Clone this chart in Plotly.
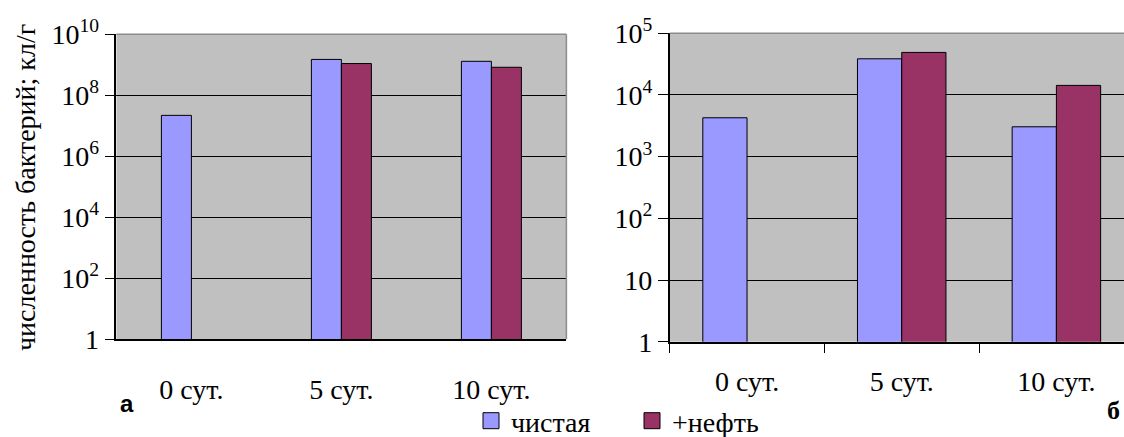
import plotly.graph_objects as go

categories = ["0 сут.", "5 сут.", "10 сут."]
series_names = ["чистая", "+нефть"]
a_clean = [2.2e7, 1.5e9, 1.3e9]
a_oil = [None, 1.1e9, 8.3e8]
b_clean = [4270, 38600, 3050]
b_oil = [None, 49000, 14300]
a_tickvals = [1, 1e2, 1e4, 1e6, 1e8, 1e10]
a_ticktext = ["1", "10<sup>2</sup>", "10<sup>4</sup>", "10<sup>6</sup>", "10<sup>8</sup>", "10<sup>10</sup>"]
b_tickvals = [1, 10, 1e2, 1e3, 1e4, 1e5]
b_ticktext = ["1", "10", "10<sup>2</sup>", "10<sup>3</sup>", "10<sup>4</sup>", "10<sup>5</sup>"]

C_CLEAN = "#9999FF"
C_OIL = "#993366"
SERIF = "Liberation Serif"
W, H = 1124, 437
FS = 28
WA = 0.2    # bar width (category units), panel a
WB = 0.286  # bar width, panel b


def px(x):
    return x / W


def py(y):
    return 1 - y / H


fig = go.Figure()
line = dict(color="black", width=1)
fig.add_trace(go.Bar(x=categories, y=a_clean, name=series_names[0], marker=dict(color=C_CLEAN, line=line),
                     width=WA, offset=-WA, xaxis="x", yaxis="y", showlegend=False))
fig.add_trace(go.Bar(x=categories, y=a_oil, name=series_names[1], marker=dict(color=C_OIL, line=line),
                     width=WA, offset=0, xaxis="x", yaxis="y", showlegend=False))
fig.add_trace(go.Bar(x=categories, y=b_clean, name=series_names[0], marker=dict(color=C_CLEAN, line=line),
                     width=WB, offset=-WB, xaxis="x2", yaxis="y2", showlegend=False))
fig.add_trace(go.Bar(x=categories, y=b_oil, name=series_names[1], marker=dict(color=C_OIL, line=line),
                     width=WB, offset=0, xaxis="x2", yaxis="y2", showlegend=False))
# legend entries (larger square swatches)
for nm, col in zip(series_names, [C_CLEAN, C_OIL]):
    fig.add_trace(go.Scatter(x=[None], y=[None], name=nm, mode="markers", xaxis="x", yaxis="y",
                             marker=dict(symbol="square", size=16, color=col,
                                         line=dict(color="black", width=1))))

tickfont = dict(family=SERIF, size=FS, color="black")
yax_common = dict(type="log", showgrid=True, gridcolor="black", gridwidth=1, showline=True, linecolor="black",
                  linewidth=1.5, ticks="outside", ticklen=10, tickcolor="black", tickfont=tickfont,
                  zeroline=False, tickmode="array", automargin=False, ticklabelstandoff=0)

fig.update_layout(
    width=W, height=H,
    margin=dict(l=0, r=0, t=0, b=0, autoexpand=False),
    paper_bgcolor="white",
    plot_bgcolor="#C0C0C0",
    barmode="overlay",
    xaxis=dict(domain=[px(116.4), px(566.4)], anchor="y", type="category", range=[-0.5, 2.5],
               showline=True, linecolor="black", linewidth=1.5, ticks="", tickfont=tickfont,
               ticklabelstandoff=24, showgrid=False, automargin=False),
    yaxis=dict(domain=[py(339.3), py(34.3)], anchor="x", range=[0, 10],
               tickvals=a_tickvals, ticktext=a_ticktext, **yax_common),
    xaxis2=dict(domain=[px(669.7), 1.0], anchor="y2", type="category", range=[-0.5, 2.437],
                showline=True, linecolor="black", linewidth=1.5, ticks="outside", ticklen=10,
                tickcolor="black", tickson="boundaries", tickfont=tickfont, ticklabelstandoff=14,
                showgrid=False, automargin=False),
    yaxis2=dict(domain=[py(341.7), py(33.3)], anchor="x2", range=[0, 5],
                tickvals=b_tickvals, ticktext=b_ticktext, **yax_common),
    legend=dict(orientation="h", x=px(471), xanchor="left", y=py(421), yanchor="middle",
                font=dict(family=SERIF, size=FS, color="black"), bgcolor="rgba(0,0,0,0)",
                entrywidth=116, entrywidthmode="pixels", traceorder="normal", itemsizing="trace"),
    showlegend=True,
)

# Grey plot-area borders (top / right)
fig.add_shape(type="line", xref="x domain", yref="y domain", x0=0, x1=1, y0=1, y1=1,
              line=dict(color="#8c8c8c", width=1.5))
fig.add_shape(type="line", xref="x domain", yref="y domain", x0=1, x1=1, y0=0, y1=1,
              line=dict(color="#8c8c8c", width=1.5))
fig.add_shape(type="line", xref="x2 domain", yref="y2 domain", x0=0, x1=1, y0=1, y1=1,
              line=dict(color="#8c8c8c", width=1.5))

fig.add_annotation(text="численность бактерий; кл/г", textangle=-90, xref="paper", yref="paper",
                   x=px(26), y=py(188), xanchor="center", yanchor="middle", showarrow=False,
                   font=dict(family=SERIF, size=FS, color="black"))
fig.add_annotation(text="<b>а</b>", xref="paper", yref="paper", x=px(127), y=py(403),
                   xanchor="center", yanchor="middle", showarrow=False,
                   font=dict(family="Liberation Sans", size=24, color="black"))
fig.add_annotation(text="<b>б</b>", xref="paper", yref="paper", x=px(1113), y=py(410),
                   xanchor="center", yanchor="middle", showarrow=False,
                   font=dict(family=SERIF, size=26, color="black"))

fig.write_html("out.html", config={"displayModeBar": False},
               post_script="document.body.style.margin='0';document.body.style.overflow='hidden';")
